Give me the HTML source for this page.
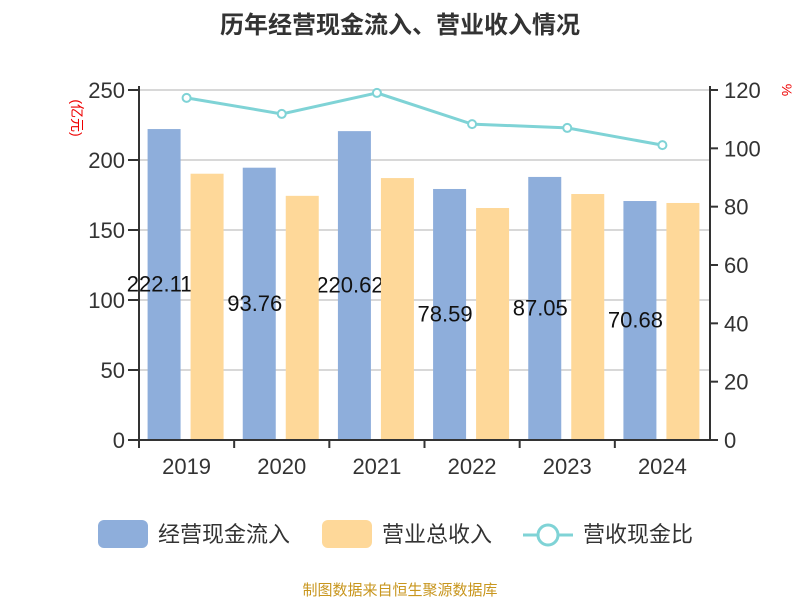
<!DOCTYPE html>
<html><head><meta charset="utf-8"><style>
body{margin:0;background:#fff;}
svg text{font-family:"Liberation Sans","Noto Sans CJK SC",sans-serif;}
</style></head><body>
<svg id="c" width="800" height="600">
<text x="400" y="33" text-anchor="middle" font-size="24" font-weight="bold" fill="#333">历年经营现金流入、营业收入情况</text>
<text transform="translate(72,118) rotate(90)" text-anchor="middle" font-size="14" fill="#e00">(亿元)</text>
<text transform="translate(782,90) rotate(90)" text-anchor="middle" font-size="14" fill="#e00">%</text>
<g id="grid"></g><g id="blue"></g><g id="labels"></g><g id="orange"></g><g id="axes"></g><g id="line"></g>
<g>
<rect x="98" y="520" width="50" height="28" rx="6" fill="#8eaedb"/>
<text x="158" y="542" font-size="22" fill="#333">经营现金流入</text>
<rect x="322" y="520" width="50" height="28" rx="6" fill="#fed899"/>
<text x="382" y="542" font-size="22" fill="#333">营业总收入</text>
<line x1="523" y1="535" x2="573" y2="535" stroke="#7fd3d6" stroke-width="3"/>
<circle cx="548" cy="535" r="10" fill="#fff" stroke="#7fd3d6" stroke-width="3"/>
<text x="583" y="542" font-size="22" fill="#333">营收现金比</text>
</g>
<text x="400" y="595" text-anchor="middle" font-size="15" fill="#c8961e">制图数据来自恒生聚源数据库</text>
</svg>
<script>
const categories=["2019","2020","2021","2022","2023","2024"];
const cashInflow=[222.11,194.5,220.62,179.3,187.9,170.7];
const revenue=[190.2,174.4,187.1,165.7,175.7,169.3];
const ratio=[117.3,111.8,119.0,108.3,107.0,101.1];
const printedLabels=["222.11","93.76","220.62","78.59","87.05","70.68"];
const leftTicks=[0,50,100,150,200,250];
const rightTicks=[0,20,40,60,80,100,120];
const L=139,R=710,T=90,B=440,bw=(R-L)/categories.length;
const yL=v=>B-v/250*(B-T), yR=v=>B-v/120*(B-T), xC=i=>L+bw*(i+0.5);
const NS="http://www.w3.org/2000/svg";
function mk(p,tag,a,t){const e=document.createElementNS(NS,tag);for(const k in a)e.setAttribute(k,a[k]);if(t!=null)e.textContent=t;document.getElementById(p).appendChild(e);return e;}
leftTicks.forEach(v=>{
 const g=mk("grid","line",{x1:L,x2:R,y1:yL(v),y2:yL(v),stroke:"#ccc","stroke-width":1.5});
 
 
 const tk=mk("axes","line",{x1:L-11,x2:L,y1:yL(v),y2:yL(v),stroke:"#333","stroke-width":2});
 
 
 const t=mk("axes","text",{x:L-14,y:yL(v)+8,"text-anchor":"end","font-size":22,fill:"#333"},v);
 
 
});
rightTicks.forEach(v=>{
 const tk=mk("axes","line",{x1:R,x2:R+8,y1:yR(v),y2:yR(v),stroke:"#333","stroke-width":2});
 
 
 const t=mk("axes","text",{x:R+14,y:yR(v)+8,"font-size":22,fill:"#333"},v);
 
 
});
let a=mk("axes","line",{x1:L,x2:L,y1:T-4,y2:B,stroke:"#333","stroke-width":2});


a=mk("axes","line",{x1:R,x2:R,y1:T-4,y2:B,stroke:"#333","stroke-width":2});


a=mk("axes","line",{x1:L,x2:R,y1:B,y2:B,stroke:"#333","stroke-width":2});


categories.forEach((c,i)=>{
 const tk=mk("axes","line",{x1:L+bw*i,x2:L+bw*i,y1:B,y2:B+8,stroke:"#333","stroke-width":2});
 
 
 const t=mk("axes","text",{x:xC(i),y:B+34,"text-anchor":"middle","font-size":22,fill:"#333"},c);
 
 
 const b=mk("blue","rect",{x:xC(i)-39,y:yL(cashInflow[i]),width:33,height:B-yL(cashInflow[i]),fill:"#8eaedb"});
 
 
 const lb=mk("labels","text",{x:xC(i)-27,y:(yL(cashInflow[i])+B)/2+7,"text-anchor":"middle","font-size":22,fill:"#111"},printedLabels[i]);
 
 
 const o=mk("orange","rect",{x:xC(i)+4,y:yL(revenue[i]),width:33,height:B-yL(revenue[i]),fill:"#fed899"});
 
 
});
const pl=mk("line","polyline",{points:ratio.map((v,i)=>xC(i)+","+yR(v)).join(" "),fill:"none",stroke:"#7fd3d6","stroke-width":3});


ratio.forEach((v,i)=>{
 const p=mk("line","circle",{cx:xC(i),cy:yR(v),r:4,fill:"#fff",stroke:"#7fd3d6","stroke-width":2});
 
 
});
</script>
</body></html>
